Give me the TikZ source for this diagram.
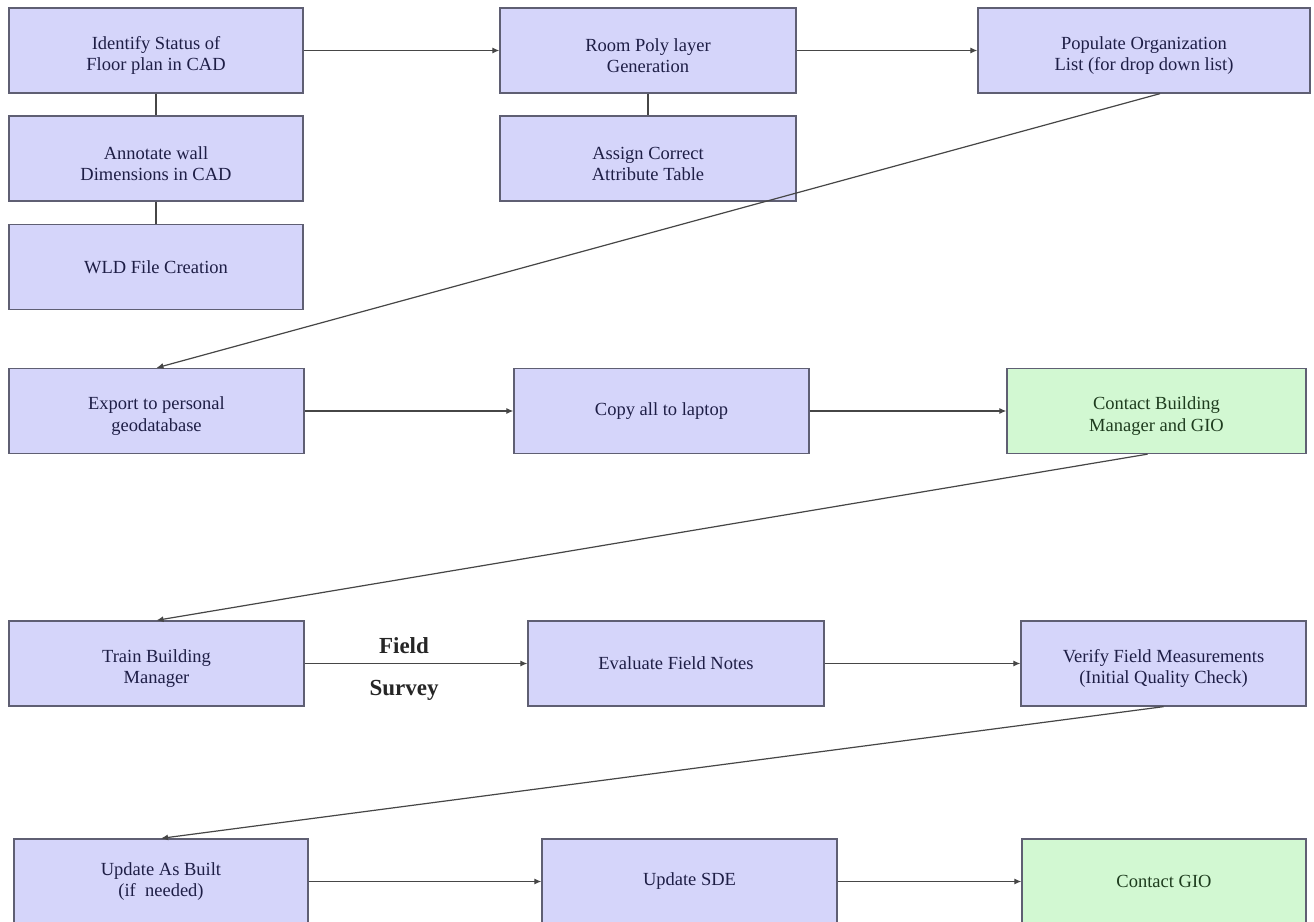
\documentclass[tikz,border=0pt]{standalone}
\usepackage{fontspec}
\setmainfont{Liberation Serif}
\usetikzlibrary{arrows.meta,calc}
\definecolor{boxfill}{RGB}{213,213,250}
\definecolor{greenfill}{RGB}{210,248,210}
\definecolor{boxline}{RGB}{95,95,115}
\definecolor{boxtext}{RGB}{30,30,70}
\definecolor{greentext}{RGB}{30,60,30}
\definecolor{linecol}{RGB}{70,70,70}
\newcommand\mytopstrut{\rule{0pt}{23pt}}
\begin{document}
\begin{tikzpicture}[x=1pt,y=-1pt,
  box/.style={draw=boxline, fill=boxfill, line width=1.3pt, minimum height=85pt,
    inner sep=0pt, align=center, text=boxtext, font=\fontsize{18.5}{21.5}\selectfont},
  gbox/.style={box, fill=greenfill, text=greentext},
  arr/.style={draw=linecol, line width=1.2pt, -{Latex[length=7pt,width=6pt]}},
  link/.style={draw=linecol, line width=1.2pt},
  lbl/.style={font=\bfseries\fontsize{23}{25}\selectfont, text=black!85}]
\path[use as bounding box, clip] (0,0) rectangle (1314,921);
\fill[white] (0,0) rectangle (1314,921);
% row 1
\node[box, minimum width=294pt] (a1) at (156,50.5) {\mytopstrut Identify Status of\\Floor plan in CAD};
\node[box, minimum width=294pt] (a2) at (156,158.5) {\mytopstrut Annotate wall\\Dimensions in CAD};
\node[box, minimum width=294pt] (a3) at (156,267) {WLD File Creation};
\node[box, minimum width=296pt] (b1) at (648,50.5) {\mytopstrut Room Poly layer\\Generation};
\node[box, minimum width=296pt] (b2) at (648,158.5) {\mytopstrut Assign Correct\\Attribute Table};
\node[box, minimum width=332pt] (c1) at (1144,50.5) {\mytopstrut Populate Organization\\List (for drop down list)};
% row 2
\node[box, minimum width=295pt] (e) at (156.5,411) {\mytopstrut Export to personal\\geodatabase};
\node[box, minimum width=295pt] (cp) at (661.5,411) {Copy all to laptop};
\node[gbox, minimum width=299pt] (cb) at (1156.5,411) {\mytopstrut Contact Building\\Manager and GIO};
% row 3
\node[box, minimum width=295pt] (t) at (156.5,663.5) {\mytopstrut Train Building\\Manager};
\node[box, minimum width=296pt] (ev) at (676,663.5) {Evaluate Field Notes};
\node[box, minimum width=285pt] (v) at (1163.5,663.5) {\mytopstrut Verify Field Measurements\\(Initial Quality Check)};
% row 4
\node[box, minimum width=294pt] (u) at (161,881.5) {Update As Built\\(if\ \ needed)};
\node[box, minimum width=295pt] (s) at (689.5,881.5) {Update SDE};
\node[gbox, minimum width=284pt] (g) at (1164,881.5) {Contact GIO};
% vertical links
\draw[link] (a1) -- (a2);
\draw[link] (a2) -- (a3);
\draw[link] (b1) -- (b2);
% horizontal arrows
\draw[arr] (a1) -- (b1);
\draw[arr] (b1) -- (c1);
\draw[arr] (e) -- (cp);
\draw[arr] (cp) -- (cb);
\draw[arr] (t) -- (ev);
\draw[arr] (ev) -- (v);
\draw[arr] (u) -- (s);
\draw[arr] (s) -- (g);
% diagonal arrows
\draw[arr] ($(c1.south west)!0.548!(c1.south east)$) -- (e.north);
\draw[arr] ($(cb.south west)!0.47!(cb.south east)$) -- (t.north);
\draw[arr] (v.south) -- (u.north);
% labels
\node[lbl] (f1) at (404,646) {Field};
\node[lbl] (f2) at (404,690) {Survey};
\end{tikzpicture}
\end{document}
